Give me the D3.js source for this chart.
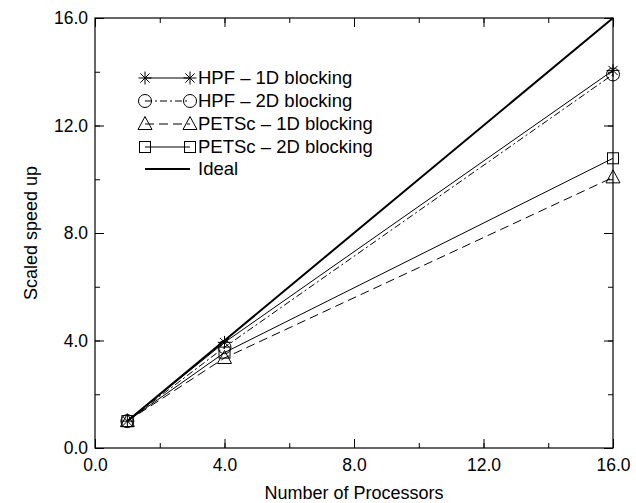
<!DOCTYPE html>
<html><head><meta charset="utf-8">
<script src="https://cdn.jsdelivr.net/npm/d3@7"></script>
<style>body{margin:0;background:#fff}svg{display:block}text{font-family:"Liberation Sans",Arial,sans-serif;fill:#000}</style>
</head><body>
<svg id="c" width="636" height="503"></svg>
<script>
const processors = [1, 4, 16];
const seriesNames = ["HPF \u2013 1D blocking", "HPF \u2013 2D blocking", "PETSc \u2013 1D blocking", "PETSc \u2013 2D blocking", "Ideal"];
const hpf1D = [1.0, 3.93, 14.05];
const hpf2D = [1.0, 3.75, 13.9];
const petsc1D = [1.0, 3.35, 10.07];
const petsc2D = [1.0, 3.55, 10.78];
const ideal = [1, 4, 16];
const xTicks = [0, 4, 8, 12, 16];
const yTicks = [0, 4, 8, 12, 16];

const series = [
  {name: seriesNames[0], values: hpf1D, marker: "star", dash: null, width: 1},
  {name: seriesNames[1], values: hpf2D, marker: "circle", dash: "7,3,2,3", width: 1},
  {name: seriesNames[2], values: petsc1D, marker: "triangle", dash: "9,5", width: 1},
  {name: seriesNames[3], values: petsc2D, marker: "square", dash: null, width: 1},
  {name: seriesNames[4], values: ideal, marker: null, dash: null, width: 2}
];

const svg = d3.select("#c");
const L = 95, R = 613, T = 18, B = 448;
const x = d3.scaleLinear().domain([0, 16]).range([L, R]);
const y = d3.scaleLinear().domain([0, 16]).range([B, T]);
const fmt = d => d.toFixed(1);

// frame
svg.append("rect").attr("x", L).attr("y", T).attr("width", R - L).attr("height", B - T)
  .attr("fill", "none").attr("stroke", "#000").attr("stroke-width", 1.2);

// axes with inward ticks
const minor = d3.range(0, 16.01, 2);
function ticks(axisGen, vals, len, tr) {
  const g = svg.append("g").attr("transform", tr).call(axisGen.tickValues(vals).tickSize(len).tickFormat(""));
  g.select(".domain").remove();
  g.selectAll("line").attr("stroke", "#000");
  return g;
}
ticks(d3.axisBottom(x), minor, -5, `translate(0,${B})`);
ticks(d3.axisBottom(x), xTicks, -9, `translate(0,${B})`);
ticks(d3.axisTop(x), minor, -5, `translate(0,${T})`);
ticks(d3.axisTop(x), xTicks, -9, `translate(0,${T})`);
ticks(d3.axisLeft(y), minor, -5, `translate(${L},0)`);
ticks(d3.axisLeft(y), yTicks, -9, `translate(${L},0)`);
ticks(d3.axisRight(y), minor, -5, `translate(${R},0)`);
ticks(d3.axisRight(y), yTicks, -9, `translate(${R},0)`);

// labels
const gx = svg.append("g").attr("transform", `translate(0,${B})`)
  .call(d3.axisBottom(x).tickValues(xTicks).tickSize(0).tickPadding(11).tickFormat(fmt));
gx.select(".domain").remove();
gx.selectAll("text").attr("font-size", 17.5).style("font-family", "Liberation Sans, Arial, sans-serif");
const gy = svg.append("g").attr("transform", `translate(${L},0)`)
  .call(d3.axisLeft(y).tickValues(yTicks).tickSize(0).tickPadding(7).tickFormat(fmt));
gy.select(".domain").remove();
gy.selectAll("text").attr("font-size", 17.5).style("font-family", "Liberation Sans, Arial, sans-serif");

svg.append("text").attr("x", (L + R) / 2).attr("y", 499).attr("text-anchor", "middle")
  .attr("font-size", 18).text("Number of Processors");
svg.append("text").attr("transform", `translate(37,${(T + B) / 2}) rotate(-90)`).attr("text-anchor", "middle")
  .attr("font-size", 18).text("Scaled speed up");

// markers
function drawMarker(g, type, cx, cy) {
  const s = 6.5;
  if (type === "star") {
    const p = d3.path();
    for (let a = 0; a < 4; a++) {
      const ang = a * Math.PI / 4;
      p.moveTo(cx - s * Math.cos(ang), cy - s * Math.sin(ang));
      p.lineTo(cx + s * Math.cos(ang), cy + s * Math.sin(ang));
    }
    g.append("path").attr("d", p.toString()).attr("stroke", "#000").attr("fill", "none");
  } else if (type === "circle") {
    g.append("circle").attr("cx", cx).attr("cy", cy).attr("r", s).attr("fill", "none").attr("stroke", "#000");
  } else if (type === "triangle") {
    g.append("path").attr("d", `M${cx},${cy - s - 1}L${cx + s + 0.5},${cy + s - 1}L${cx - s - 0.5},${cy + s - 1}Z`)
      .attr("fill", "none").attr("stroke", "#000");
  } else if (type === "square") {
    g.append("rect").attr("x", cx - 5.5).attr("y", cy - 5.5).attr("width", 11).attr("height", 11)
      .attr("fill", "none").attr("stroke", "#000");
  }
}

const line = d3.line().x((d, i) => x(processors[i])).y(d => y(d));
const plot = svg.append("g");
series.forEach(s => {
  plot.append("path").attr("d", line(s.values)).attr("fill", "none").attr("stroke", "#000")
    .attr("stroke-width", s.width).attr("stroke-dasharray", s.dash);
});
series.forEach(s => {
  if (!s.marker) return;
  s.values.forEach((v, i) => drawMarker(plot, s.marker, x(processors[i]), y(v)));
});

// legend
const legY = [78, 101, 124, 147, 169];
const lg = svg.append("g");
series.forEach((s, i) => {
  const yy = legY[i];
  lg.append("line").attr("x1", 145).attr("x2", 190).attr("y1", yy).attr("y2", yy)
    .attr("stroke", "#000").attr("stroke-width", s.width).attr("stroke-dasharray", s.dash);
  if (s.marker) { drawMarker(lg, s.marker, 145, yy); drawMarker(lg, s.marker, 190, yy); }
  lg.append("text").attr("x", 198).attr("y", yy + 6).attr("font-size", 18.5).text(s.name);
});
</script>
</body></html>
